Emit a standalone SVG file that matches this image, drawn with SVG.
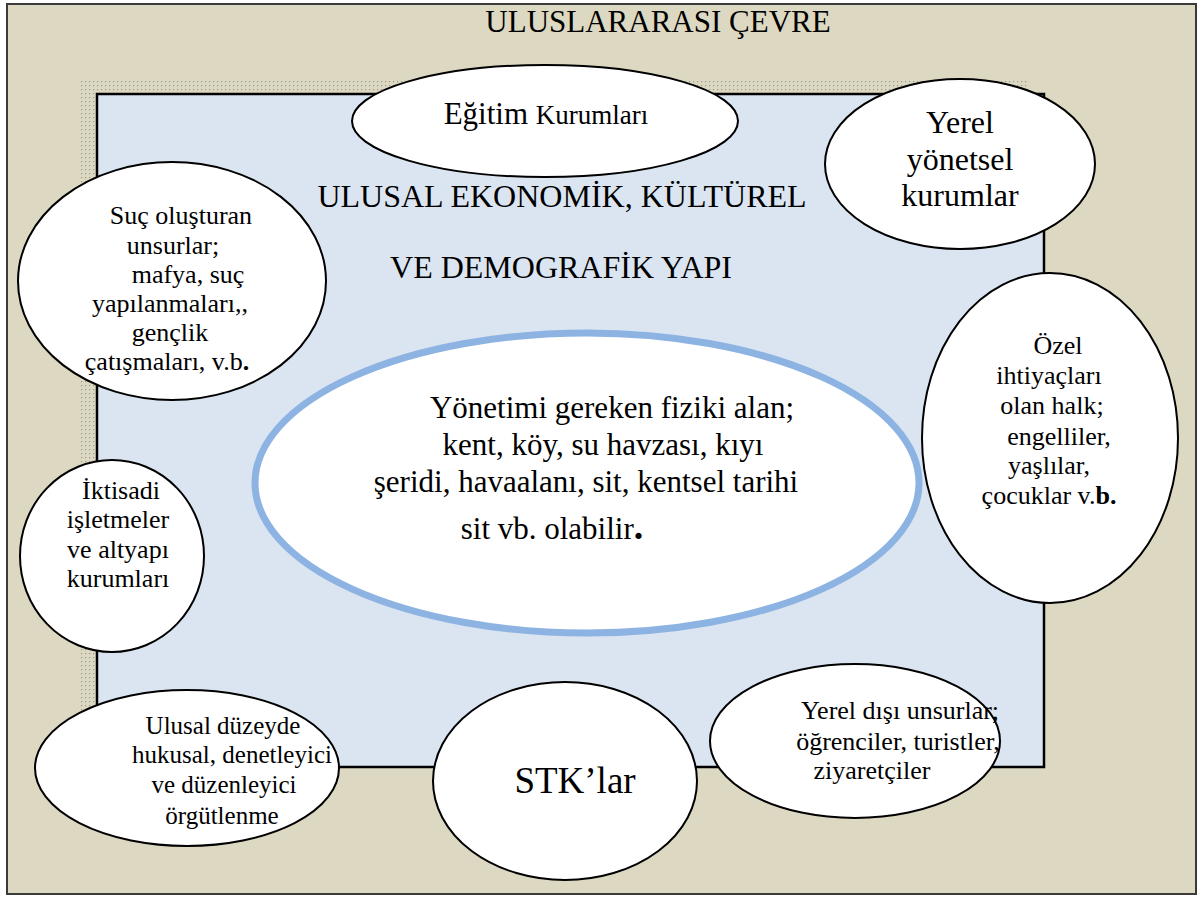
<svg xmlns="http://www.w3.org/2000/svg" width="1203" height="900" viewBox="0 0 1203 900" font-family="'Liberation Serif', 'Times New Roman', serif">
<defs>
<pattern id="dots" width="4" height="4" patternUnits="userSpaceOnUse">
<rect x="1" y="1" width="1.2" height="1.2" fill="#9a9888"/>
</pattern>
<style>
text{font-family:'Liberation Serif','Times New Roman',serif;fill:#000;text-anchor:middle}
.node{fill:#fff;stroke:#000;stroke-width:2}
</style>
</defs>
<rect x="7" y="4" width="1189" height="890" fill="#ddd8c2" stroke="#3a3a3a" stroke-width="2"/>
<text x="658" y="32" font-size="31">ULUSLARARASI ÇEVRE</text>
<rect x="80" y="80" width="947" height="673" fill="url(#dots)"/>
<rect x="97" y="94" width="947" height="673" fill="#dbe5f1" stroke="#000" stroke-width="2.5"/>
<text x="562" y="207" font-size="32">ULUSAL EKONOMİK, KÜLTÜREL</text>
<text x="561" y="278" font-size="32">VE DEMOGRAFİK YAPI</text>

<g id="egitim">
<ellipse class="node" cx="545" cy="121" rx="193" ry="56"/>
<text x="546" y="124"><tspan font-size="31">Eğitim </tspan><tspan font-size="27">Kurumları</tspan></text>
</g>

<g id="yerel-yonetsel">
<ellipse class="node" cx="960" cy="164" rx="135" ry="85"/>
<text x="960" y="133" font-size="32">Yerel</text>
<text x="960" y="170" font-size="32">yönetsel</text>
<text x="960" y="206" font-size="32">kurumlar</text>
</g>

<g id="suc">
<ellipse class="node" cx="172" cy="281" rx="154" ry="119"/>
<text x="181" y="224" font-size="26">Suç oluşturan</text>
<text x="173" y="254" font-size="26">unsurlar;</text>
<text x="188" y="283" font-size="26">mafya, suç</text>
<text x="170" y="312" font-size="26">yapılanmaları,,</text>
<text x="170" y="341" font-size="26">gençlik</text>
<text x="167" y="370" font-size="26">çatışmaları, v.b<tspan font-weight="bold">.</tspan></text>
</g>

<g id="fiziki-alan">
<ellipse cx="587" cy="483" rx="332" ry="150" fill="#fff" stroke="#8db3e2" stroke-width="7"/>
<text x="612" y="418" font-size="31">Yönetimi gereken fiziki alan;</text>
<text x="603" y="455" font-size="31">kent, köy, su havzası, kıyı</text>
<text x="586" y="492" font-size="31">şeridi, havaalanı, sit, kentsel tarihi</text>
<text x="552" y="539" font-size="31">sit vb. olabilir<tspan font-weight="bold" font-size="38">.</tspan></text>
</g>

<g id="ozel">
<ellipse class="node" cx="1050" cy="438" rx="128" ry="165"/>
<text x="1058" y="354" font-size="26">Özel</text>
<text x="1049" y="384" font-size="26">ihtiyaçları</text>
<text x="1052" y="414" font-size="26">olan halk;</text>
<text x="1059" y="445" font-size="26">engelliler,</text>
<text x="1049" y="474" font-size="26">yaşlılar,</text>
<text x="1049" y="504" font-size="26">çocuklar v.<tspan font-weight="bold">b.</tspan></text>
</g>

<g id="iktisadi">
<ellipse class="node" cx="112" cy="556" rx="92" ry="96"/>
<text x="121" y="499" font-size="26">İktisadi</text>
<text x="118" y="528" font-size="26">işletmeler</text>
<text x="118" y="558" font-size="26">ve altyapı</text>
<text x="118" y="587" font-size="26">kurumları</text>
</g>

<g id="ulusal-duzey">
<ellipse class="node" cx="187" cy="768" rx="152" ry="78"/>
<text x="223" y="734" font-size="25">Ulusal düzeyde</text>
<text x="232" y="763" font-size="25">hukusal, denetleyici</text>
<text x="224" y="793" font-size="25">ve düzenleyici</text>
<text x="222" y="824" font-size="25">örgütlenme</text>
</g>

<g id="stk">
<ellipse class="node" cx="565" cy="781" rx="132" ry="99"/>
<text x="575" y="793" font-size="37">STK’lar</text>
</g>

<g id="yerel-disi">
<ellipse class="node" cx="855" cy="741" rx="145" ry="77"/>
<text x="900" y="719" font-size="26">Yerel dışı unsurlar;</text>
<text x="898" y="750" font-size="26">öğrenciler, turistler,</text>
<text x="872" y="779" font-size="26">ziyaretçiler</text>
</g>

<g id="connectors"></g>
</svg>
